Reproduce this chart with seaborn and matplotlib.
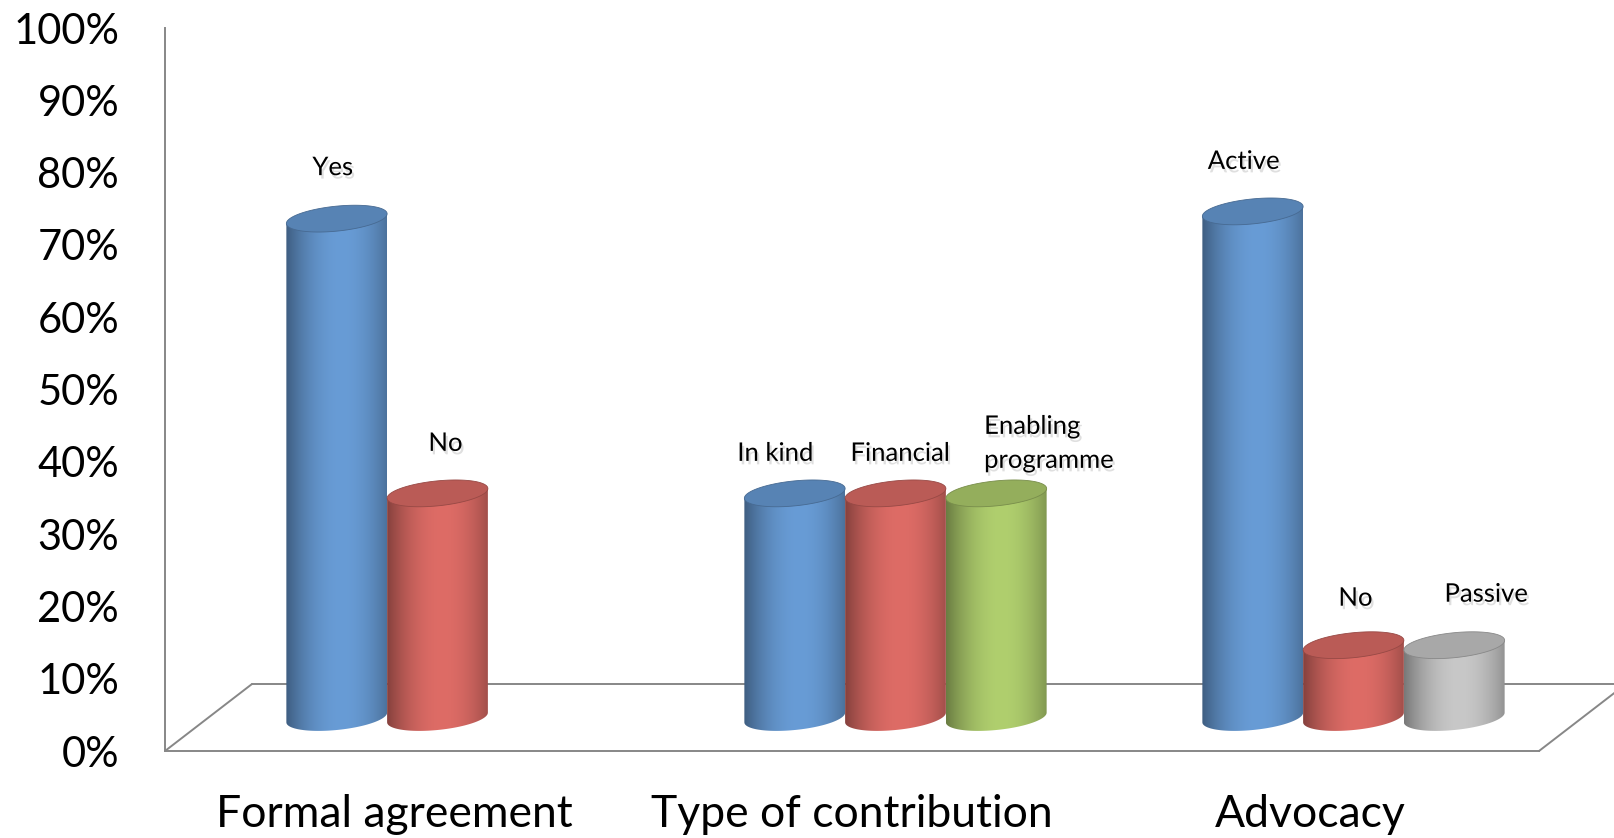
import numpy as np
import pandas as pd
import matplotlib
matplotlib.use("Agg")
import matplotlib.pyplot as plt
import seaborn as sns
from matplotlib.patches import PathPatch, Polygon
from matplotlib.path import Path
from matplotlib.colors import to_rgb
from matplotlib.transforms import ScaledTranslation, IdentityTransform
from matplotlib.ticker import FixedLocator, PercentFormatter
import matplotlib.patheffects as pe

# ---- data -------------------------------------------------------------
groups = ["Formal agreement", "Type of contribution", "Advocacy"]

formal_options = ["Yes", "No"]
formal_values = [69, 31]

contribution_options = ["In kind", "Financial", "Enabling\nprogramme"]
contribution_values = [31, 31, 31]

advocacy_options = ["Active", "No", "Passive"]
advocacy_values = [70, 10, 10]

y_ticks = list(range(0, 101, 10))

rows = []
for g, opts, vals in zip(groups,
                         [formal_options, contribution_options, advocacy_options],
                         [formal_values, contribution_values, advocacy_values]):
    for slot, (o, v) in enumerate(zip(opts, vals)):
        rows.append(dict(group=g, option=o, slot=f"s{slot}", value=v))
df = pd.DataFrame(rows)

# ---- styling ------------------------------------------------------------
BLUE, RED, GREEN, GREY = "#689CD6", "#DE6C66", "#B0CF6E", "#C8C8C8"
slot_palette = {"s0": BLUE, "s1": RED, "s2": GREEN}
colour_override = {("Advocacy", "Passive"): GREY}
AXIS_GREY = "#878787"

# label nudges in pixels (dx, dy above the top cap)
label_nudge = {
    ("Formal agreement", "Yes"): (-4, 51),
    ("Formal agreement", "No"): (8, 50),
    ("Type of contribution", "In kind"): (-19, 40),
    ("Type of contribution", "Financial"): (5, 40),
    ("Type of contribution", "Enabling\nprogramme"): (53, 50),
    ("Advocacy", "Active"): (-9, 50),
    ("Advocacy", "No"): (2, 47),
    ("Advocacy", "Passive"): (32, 51),
}

sns.set_style("white")
plt.rcParams["font.family"] = ["Lato", "DejaVu Sans"]

W, H = 1614, 838
fig = plt.figure(figsize=(W / 100, H / 100), dpi=100)
x_left, x_right, y_zero, y_full = 165, 1539, 751, 28
ax = fig.add_axes([x_left / W, (H - y_zero) / H,
                   (x_right - x_left) / W, (y_zero - y_full) / H])

sns.barplot(data=df, x="group", y="value", hue="slot", order=groups,
            hue_order=["s0", "s1", "s2"], palette=slot_palette, width=0.66,
            dodge=True, errorbar=None, legend=False, saturation=1, ax=ax)

ax.set_xlim(-0.5, 2.5)
ax.set_ylim(0, 100)

# pseudo-3D geometry: floor depth vector in pixels, bars stand mid-depth
depth_px = np.array([87.0, 67.0])
mid_tr = ax.transData + ScaledTranslation(depth_px[0] / 200, depth_px[1] / 200,
                                          fig.dpi_scale_trans)
px_per_x = (x_right - x_left) / 3.0
px_per_y = (y_zero - y_full) / 100.0
cap_b = 12.5 / px_per_y                  # semi-minor axis of caps (data units)
shear = 0.096 * px_per_x / px_per_y      # tilt of caps (data y per data x)

# floor outline
front = ax.transData.transform([(-0.5, 0), (2.5, 0)])
back = front + depth_px
for seg in ([front[0], back[0]], [back[0], back[1]], [front[1], back[1]]):
    seg = np.array(seg)
    ax.plot(seg[:, 0], seg[:, 1], transform=IdentityTransform(), color=AXIS_GREY,
            lw=1.4, clip_on=False, zorder=0.5)


def shade_profile(n=256):
    t = np.linspace(0, 1, n)
    return np.clip(0.6 + 0.4 * (1 - ((t - 0.55) / 0.55) ** 2), 0.55, 1.0)


def ellipse_pts(cx, cy, a, t):
    return np.column_stack([cx + a * np.cos(t),
                            cy + cap_b * np.sin(t) + shear * a * np.cos(t)])


prof = shade_profile()
bar_info = []
for slot_idx, container in enumerate(ax.containers):
    slot = f"s{slot_idx}"
    for p in container.patches:
        cx = p.get_x() + p.get_width() / 2
        cat = int(round(cx))
        row = df[(df.group == groups[cat]) & (df.slot == slot)]
        if row.empty:
            continue
        row = row.iloc[0]
        bar_info.append((cx, p, row))

for order, (cx, p, row) in enumerate(sorted(bar_info, key=lambda r: r[0])):
    x0, w, h = p.get_x(), p.get_width(), p.get_height()
    a = w / 2
    base = np.array(to_rgb(colour_override.get((row.group, row.option),
                                               p.get_facecolor()[:3])))
    p.set_visible(False)
    z = 3 + order * 0.1

    # body: sides plus the lower half of the bottom cap
    bottom = ellipse_pts(cx, 0, a, np.linspace(np.pi, 2 * np.pi, 60))
    verts = np.vstack([[x0, h - shear * a], bottom[:1], bottom,
                       [x0 + w, h + shear * a], [x0, h - shear * a]])
    body = PathPatch(Path(verts), transform=mid_tr, facecolor="none",
                     edgecolor="none")
    ax.add_patch(body)
    grad = np.clip(base[None, None, :] * prof[None, :, None], 0, 1)
    im = ax.imshow(grad, extent=[x0, x0 + w, -2 * cap_b, h + 2 * cap_b],
                   aspect="auto", transform=mid_tr, interpolation="bilinear",
                   zorder=z)
    im.set_clip_path(body)

    # top cap
    top = ellipse_pts(cx, h, a, np.linspace(0, 2 * np.pi, 120))
    ax.add_patch(Polygon(top, closed=True, transform=mid_tr,
                         facecolor=np.clip(base * 0.84, 0, 1),
                         edgecolor=np.clip(base * 0.68, 0, 1), lw=0.6,
                         zorder=z + 0.05))

    dx, dy = label_nudge.get((row.group, row.option), (0, 50))
    ax.annotate(row.option, xy=(cx, h), xycoords=mid_tr,
                xytext=(dx * 0.72, dy * 0.72), textcoords="offset points",
                ha="center", va="center", multialignment="left",
                linespacing=1.45, fontsize=18.5, color="black", zorder=10,
                path_effects=[pe.SimplePatchShadow(offset=(1.5, -2.5),
                                                   shadow_rgbFace="0.5",
                                                   alpha=0.25),
                              pe.Normal()])

ax.set_xlim(-0.5, 2.5)
ax.set_ylim(0, 100)

# axes, ticks and labels
for side in ("top", "right"):
    ax.spines[side].set_visible(False)
for side in ("left", "bottom"):
    ax.spines[side].set_color(AXIS_GREY)
    ax.spines[side].set_linewidth(1.4)

ax.yaxis.set_major_locator(FixedLocator(y_ticks))
ax.yaxis.set_major_formatter(PercentFormatter(100, decimals=0))
ax.tick_params(axis="y", which="major", direction="out", length=10, width=1.3,
               color=AXIS_GREY, pad=23, labelsize=30, labelcolor="black")

ax.set_xticks(range(len(groups)))
ax.set_xticklabels(groups)
ax.set_xticks([-0.5, 0.5, 1.5, 2.5], minor=True)
ax.tick_params(axis="x", which="major", length=0, pad=31, labelsize=32,
               labelcolor="black")
ax.tick_params(axis="x", which="minor", direction="out", length=10, width=1.3,
               color=AXIS_GREY)
ax.set_xlabel("")
ax.set_ylabel("")
ax.grid(False)

fig.savefig("out.png", dpi=100, facecolor="white")
